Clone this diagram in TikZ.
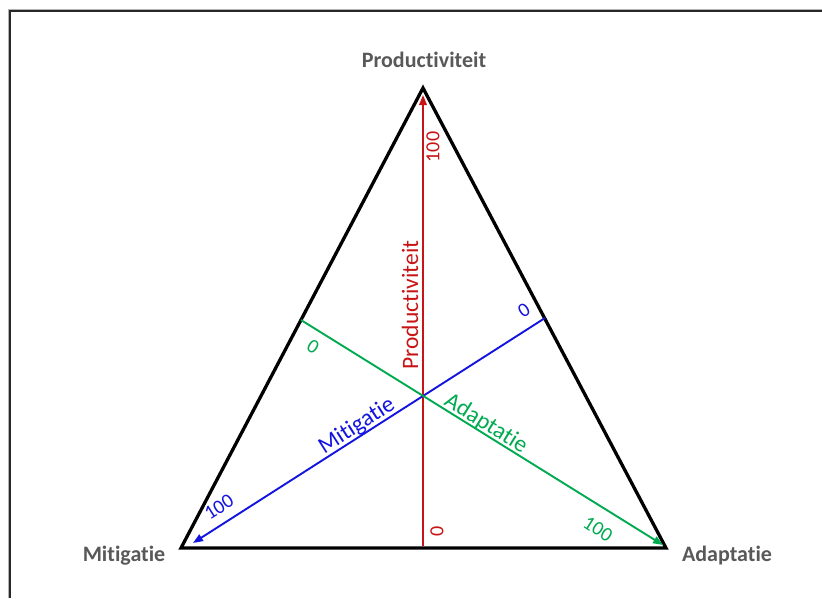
\documentclass[tikz,border=0pt]{standalone}
\usepackage{fontspec}
\setmainfont{Carlito}[Ligatures={NoCommon}]
\usetikzlibrary{arrows.meta}
\definecolor{vtxgray}{RGB}{89,89,89}
\definecolor{axred}{RGB}{200,20,20}
\definecolor{axblue}{RGB}{20,20,225}
\definecolor{axgreen}{RGB}{0,170,80}
\definecolor{framecol}{RGB}{40,40,40}
\tikzset{
  vlabel/.style={text=vtxgray, font=\fontsize{22}{26}\selectfont\bfseries, inner sep=0pt},
  axlabel/.style={font=\fontsize{23.5}{27}\selectfont, inner sep=0pt},
  numlabel/.style={font=\fontsize{20}{24}\selectfont, inner sep=0pt},
  tri/.style={line width=3.3pt, line join=miter, draw=black},
  axis/.style={line width=1.9pt, -{Triangle[length=10pt,width=7.5pt]}},
}
\begin{document}
\begin{tikzpicture}[x=1pt,y=-1pt]
\useasboundingbox (0,0) rectangle (822,598);
\fill[white] (0,0) rectangle (822,598);
\draw[gray!60, line width=1pt] (8,598) -- (8,9) -- (822,9);
\draw[framecol, line width=1.8pt] (10,598) -- (10,11) -- (822,11);
% triangle
\coordinate (P) at (423,88);
\coordinate (M) at (181,548);
\coordinate (A) at (666,548);
\draw[tri] (P) -- (M) -- (A) -- cycle;
% axes
\coordinate (Pb) at (423,546);
\coordinate (Pt) at (423,95);
\coordinate (Ms) at (545,318);
\coordinate (Me) at (193,543);
\coordinate (As) at (301,320);
\coordinate (Ae) at (663,545);
\draw[axis, axred] (Pb) -- (Pt);
\draw[axis, axblue] (Ms) -- (Me);
\draw[axis, axgreen] (As) -- (Ae);
% vertex labels
\node[vlabel] (lP) at (424,60) {Productiviteit};
\node[vlabel] (lM) at (124,556) {Mitigatie};
\node[vlabel] (lA) at (727,556) {Adaptatie};
% axis labels
\node[axlabel, text=axred, rotate=90] (tP) at (410,305) {Productiviteit};
\node[axlabel, text=axblue, rotate=32.6] (tM) at (357,426) {Mitigatie};
\node[axlabel, text=axgreen, rotate=-32] (tA) at (486,424) {Adaptatie};
% numbers
\node[numlabel, text=axred, rotate=90] (nP100) at (433,147) {100};
\node[numlabel, text=axred, rotate=90] (nP0) at (437,531) {0};
\node[numlabel, text=axblue, rotate=32.6] (nM0) at (524,310) {0};
\node[numlabel, text=axblue, rotate=32.6] (nM100) at (219,507) {100};
\node[numlabel, text=axgreen, rotate=-32] (nA0) at (313,347) {0};
\node[numlabel, text=axgreen, rotate=-32] (nA100) at (598,529) {100};
\end{tikzpicture}
\end{document}
